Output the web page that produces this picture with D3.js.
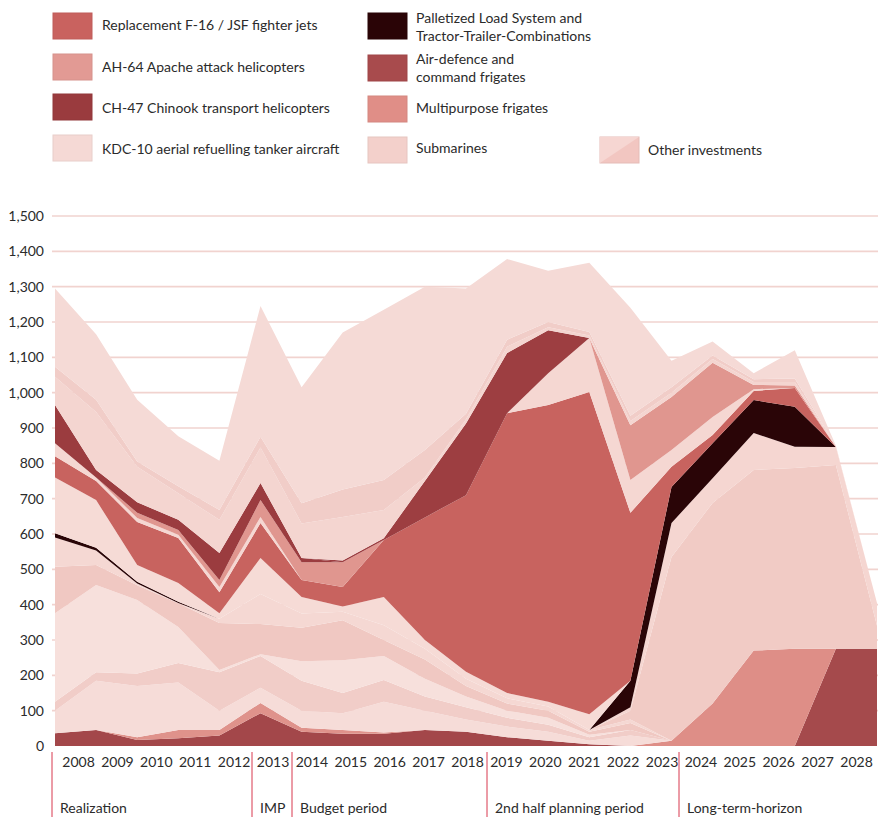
<!DOCTYPE html>
<html><head><meta charset="utf-8">
<script src="https://cdn.jsdelivr.net/npm/d3@7/dist/d3.min.js"></script>
<style>
body{margin:0;background:#fff;}
svg text{font-family:Lato,"Open Sans",sans-serif;fill:#2b2b2b;}
</style>
</head><body>
<svg id="chart" width="878" height="817"></svg>
<script>
// ---------- data ----------
const years = [2008,2009,2010,2011,2012,2013,2014,2015,2016,2017,2018,2019,2020,2021,2022,2023,2024,2025,2026,2027,2028];
const yTicks = [0,100,200,300,400,500,600,700,800,900,1000,1100,1200,1300,1400,1500];

// stacked series, bottom to top (values in millions)
const airDefenceNew   = [0,0,0,0,0,0,0,0,0,0,0,0,0,0,0,0,0,0,0,275,275];
const multipurposeNew = [0,0,0,0,0,0,0,0,0,0,0,0,0,0,0,15,120,270,275,0,0];
const otherBaseDark   = [36,45,17,22,30,93,40,35,35,45,40,25,15,5,0,0,0,0,0,0,0];
const otherBasePink   = [0,0,8,23,15,29,12,10,3,0,0,0,0,0,0,0,0,0,0,0,0];
const kdc10           = [64,140,145,135,55,43,48,48,87,55,35,30,25,10,30,0,0,0,0,0,0];
const otherB          = [25,24,35,55,109,90,85,57,62,40,35,25,20,10,15,0,0,0,0,0,0];
const otherC          = [251,247,208,102,6,5,55,93,68,50,30,20,20,7,0,0,0,0,0,0,0];
const otherD          = [131,56,42,67,133,85,95,113,45,55,30,20,20,8,20,0,0,0,0,0,0];
const otherE          = [83,41,5,1,12,85,40,24,42,30,20,15,12,5,10,0,0,0,0,0,0];
const submarines      = [0,0,0,0,0,0,0,0,0,0,0,0,0,0,25,520,568,511,512,520,65];
const otherF          = [0,0,0,0,0,0,0,0,0,0,0,0,0,0,10,96,70,105,60,51,65];
const palletized      = [12,8,5,3,0,0,0,0,0,0,0,0,0,0,75,102,99,93,113,0,0];
const otherG          = [158,135,47,53,16,102,47,15,80,25,20,15,13,45,0,0,0,0,0,0,0];
const f16jsf          = [60,54,122,128,59,99,48,55,161,347,500,792,840,912,475,57,23,26,53,0,0];
const otherH          = [37,10,11,9,15,17,0,0,0,0,0,0,90,153,93,48,51,5,0,0,0];
const apache          = [0,0,15,13,20,48,50,70,0,0,0,0,0,0,155,150,154,12,7,0,0];
const chinook         = [108,21,30,29,76,48,12,0,0,0,0,0,0,0,0,0,0,0,0,0,0];
const airDefence      = [0,0,0,0,0,0,0,5,5,103,203,170,122,0,0,0,0,0,0,0,0];
const otherTopA       = [80,164,100,75,94,101,98,123,80,10,12,18,8,7,12,12,10,8,10,2,0];
const otherTopB       = [28,35,15,20,28,30,57,78,85,78,15,20,15,10,15,15,10,8,10,1,0];
const otherTopC       = [222,185,175,142,139,370,328,444,482,462,355,228,145,196,305,75,40,17,80,1,0];

const legendLabels = [
  ["Replacement F-16 / JSF fighter jets"],
  ["AH-64 Apache attack helicopters"],
  ["CH-47 Chinook transport helicopters"],
  ["KDC-10 aerial refuelling tanker aircraft"],
  ["Palletized Load System and","Tractor-Trailer-Combinations"],
  ["Air-defence and","command frigates"],
  ["Multipurpose frigates"],
  ["Submarines"],
  ["Other investments"]
];
const periods = [
  {label:"Realization", from:2008},
  {label:"IMP", from:2013},
  {label:"Budget period", from:2014},
  {label:"2nd half planning period", from:2019},
  {label:"Long-term-horizon", from:2024}
];

// ---------- series table ----------
const series = [
  {key:"airDefenceNew", values:airDefenceNew, color:"#a54a4c"},
  {key:"multipurposeNew", values:multipurposeNew, color:"#de8e87"},
  {key:"otherBaseDark", values:otherBaseDark, color:"#a3474a"},
  {key:"otherBasePink", values:otherBasePink, color:"#df928b"},
  {key:"kdc10", values:kdc10, color:"#f6dcd8"},
  {key:"otherB", values:otherB, color:"#f1cdc8"},
  {key:"otherC", values:otherC, color:"#f7e0dc"},
  {key:"otherD", values:otherD, color:"#f0c8c2"},
  {key:"otherE", values:otherE, color:"#f5d8d3"},
  {key:"submarines", values:submarines, color:"#f1cbc5"},
  {key:"otherF", values:otherF, color:"#f5d6d1"},
  {key:"palletized", values:palletized, color:"#2a0507"},
  {key:"otherG", values:otherG, color:"#f6dbd6"},
  {key:"f16jsf", values:f16jsf, color:"#c8635f"},
  {key:"otherH", values:otherH, color:"#f5d7d2"},
  {key:"apache", values:apache, color:"#e0968f"},
  {key:"chinook", values:chinook, color:"#9b3c3f"},
  {key:"airDefence", values:airDefence, color:"#9d3e41"},
  {key:"otherTopA", values:otherTopA, color:"#f4d5d0"},
  {key:"otherTopB", values:otherTopB, color:"#f1cdc8"},
  {key:"otherTopC", values:otherTopC, color:"#f5dad6"}
];
const legendColors = ["#c9625f","#e29a94","#9a3b3e","#f5d9d5","#2a0406","#a84b4d","#e08e87","#f3d0cb","#f2c6c1"];

const rows = years.map((yr,i)=>{const r={year:yr}; series.forEach(s=>r[s.key]=s.values[i]); return r;});
const stacked = d3.stack().keys(series.map(s=>s.key))(rows);

// ---------- scales ----------
const svg = d3.select("#chart");
const x = d3.scaleLinear().domain([2008,2028]).range([55,877]);
const xLab = d3.scalePoint().domain(years).range([78,856]);
const y = d3.scaleLinear().domain([0,1500]).range([746,216]);

// gridlines
svg.append("g").selectAll("line").data(yTicks.filter(d=>d>0)).join("line")
  .attr("x1",52).attr("x2",878).attr("y1",d=>y(d)).attr("y2",d=>y(d))
  .attr("stroke","#f1d3cf").attr("stroke-width",1.6);

// areas
const area = d3.area().x(d=>x(d.data.year)).y0(d=>y(d[0])).y1(d=>y(d[1]));
svg.append("g").selectAll("path").data(stacked).join("path")
  .attr("d",area)
  .attr("fill",(d,i)=>series[i].color);

// y axis
const yAxis = svg.append("g").attr("transform","translate(47,0)")
  .call(d3.axisLeft(y).tickValues(yTicks).tickFormat(d3.format(",")).tickSize(0).tickPadding(3));
yAxis.select(".domain").remove();
yAxis.selectAll("text").style("font-size","14px").style("font-family","Lato, sans-serif").attr("fill","#2b2b2b");

// x axis labels
const xAxis = svg.append("g").attr("transform","translate(0,757)")
  .call(d3.axisBottom(xLab).tickSize(0).tickPadding(0));
xAxis.select(".domain").remove();
xAxis.selectAll("text").style("font-size","14px").style("font-family","Lato, sans-serif").attr("fill","#2b2b2b");

// period separators + labels
const sepX = {2008:52,2013:252,2014:292,2019:487,2024:679};
const pg = svg.append("g");
periods.forEach(p=>{
  const px = sepX[p.from];
  pg.append("line").attr("x1",px).attr("x2",px).attr("y1",752).attr("y2",817)
    .attr("stroke","#d8384f").attr("stroke-width",1);
  pg.append("text").attr("x",px+8).attr("y",813).text(p.label).style("font-size","14px");
});

// legend
const lg = svg.append("g");
const legPos = [
  {sx:53,sy:13,tx:102,ty:[30]},
  {sx:53,sy:54,tx:102,ty:[72]},
  {sx:53,sy:94,tx:102,ty:[113]},
  {sx:53,sy:135,tx:102,ty:[154]},
  {sx:368,sy:13,tx:416,ty:[23,41]},
  {sx:368,sy:55,tx:416,ty:[64,82]},
  {sx:368,sy:96,tx:416,ty:[113]},
  {sx:368,sy:137,tx:416,ty:[153]},
  {sx:600,sy:137,tx:648,ty:[155]}
];
legendLabels.forEach((lab,i)=>{
  const p = legPos[i];
  lg.append("rect").attr("x",p.sx).attr("y",p.sy).attr("width",39).attr("height",26)
    .attr("fill",legendColors[i]).attr("stroke",d3.color(legendColors[i]).darker(0.15)).attr("stroke-width",1);
  if(i===8){
    lg.append("path").attr("d",`M${p.sx},${p.sy} L${p.sx+39},${p.sy} L${p.sx},${p.sy+26} Z`).attr("fill","#f6d6d2");
  }
  lab.forEach((t,j)=>lg.append("text").attr("x",p.tx).attr("y",p.ty[j]).text(t).style("font-size","14px"));
});
</script>
</body></html>
